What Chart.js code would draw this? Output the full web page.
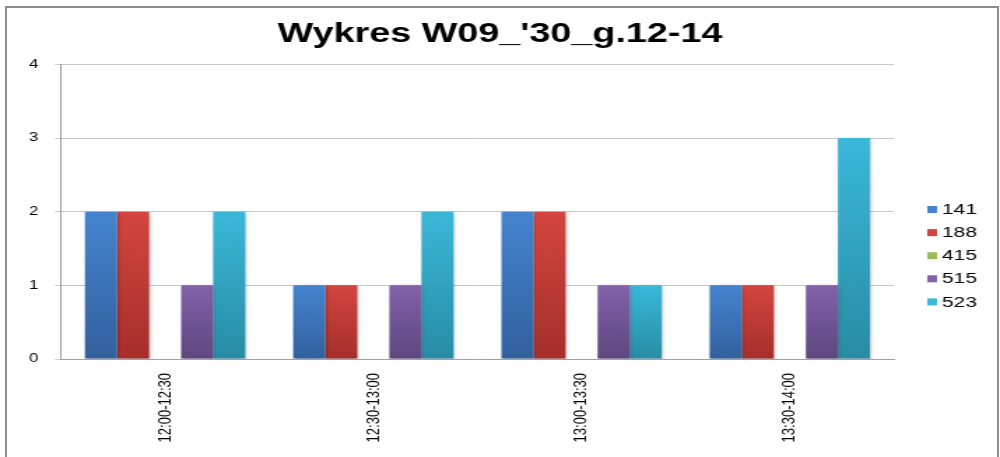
<!DOCTYPE html>
<html>
<head>
<meta charset="utf-8">
<title>Wykres W09_'30_g.12-14</title>
<script src="https://cdn.jsdelivr.net/npm/chart.js@4.4.1/dist/chart.umd.min.js"></script>
<style>
  html, body { margin: 0; padding: 0; background: #fff; }
  #page { position: relative; width: 1000px; height: 457px; overflow: hidden; background: #fff; }
  #frame { position: absolute; left: 5px; top: 6px; width: 994px; height: 470px; border: 2px solid #8c8c8c; border-bottom: none; box-sizing: border-box; }
  /* source picture is stretched sideways, so the chart is too */
  #stretch { position: absolute; left: 0; top: 0; width: 715px; height: 457px; transform: scaleX(1.3986); transform-origin: 0 0; }
</style>
</head>
<body>
<div id="page">
  <div id="frame"></div>
  <div id="stretch"><canvas id="myChart" width="715" height="457"></canvas></div>
</div>
<script>
// chart data
const titleText = "Wykres W09_'30_g.12-14";
const categories = ['12:00-12:30', '12:30-13:00', '13:00-13:30', '13:30-14:00'];
const seriesNames = ['141', '188', '415', '515', '523'];
const values141 = [2, 1, 2, 1];
const values188 = [2, 1, 2, 1];
const values415 = [0, 0, 0, 0];
const values515 = [1, 1, 1, 1];
const values523 = [2, 2, 1, 3];
const yTickValues = [0, 1, 2, 3, 4];

const FONT = '"Liberation Sans", Arial, sans-serif';

// vertical gradient per bar, lighter at the top
function barGradient(top, bottom) {
  return (ctx) => {
    const chart = ctx.chart;
    const y = chart.scales && chart.scales.y;
    if (ctx.type !== 'data' || !y) return top;
    const yTop = y.getPixelForValue(ctx.parsed.y);
    const yBase = y.getPixelForValue(0);
    if (!isFinite(yTop) || !isFinite(yBase) || yTop === yBase) return top;
    const g = chart.ctx.createLinearGradient(0, yTop, 0, yBase);
    g.addColorStop(0, top);
    g.addColorStop(1, bottom);
    return g;
  };
}

function makeSet(label, data, top, bottom) {
  return {
    label: label,
    data: data,
    legendColor: top,
    backgroundColor: barGradient(top, bottom),
    borderWidth: 0,
    categoryPercentage: 0.77,
    barPercentage: 1.0,
  };
}

// soft shadow under the bars
const barShadow = {
  id: 'barShadow',
  beforeDatasetsDraw(chart) {
    const c = chart.ctx;
    c.save();
    c.shadowColor = 'rgba(0,0,0,0.28)';
    c.shadowBlur = 3;
    c.shadowOffsetX = 1;
    c.shadowOffsetY = 1;
  },
  afterDatasetsDraw(chart) {
    chart.ctx.restore();
  }
};

// legend on the right, Excel style
const sideLegend = {
  id: 'sideLegend',
  afterDraw(chart) {
    const c = chart.ctx;
    c.save();
    c.font = '15px ' + FONT;
    c.textBaseline = 'middle';
    c.textAlign = 'left';
    chart.data.datasets.forEach((ds, i) => {
      const y = 209.5 + i * 23.1;
      c.fillStyle = ds.legendColor;
      c.fillRect(663, y - 3.5, 7, 7);
      c.fillStyle = '#000';
      c.fillText(ds.label, 673.5, y + 0.5);
    });
    c.restore();
  }
};

const ctx = document.getElementById('myChart').getContext('2d');
new Chart(ctx, {
  type: 'bar',
  data: {
    labels: categories,
    datasets: [
      makeSet(seriesNames[0], values141, '#4584d0', '#33609d'),
      makeSet(seriesNames[1], values188, '#d4453f', '#a52f2b'),
      makeSet(seriesNames[2], values415, '#9bbb59', '#76923c'),
      makeSet(seriesNames[3], values515, '#8262aa', '#5d4680'),
      makeSet(seriesNames[4], values523, '#3bb8d9', '#288ca4'),
    ],
  },
  plugins: [barShadow, sideLegend],
  options: {
    responsive: false,
    animation: false,
    layout: { padding: 0 },
    plugins: {
      legend: { display: false },
      tooltip: { enabled: false },
      title: {
        display: true,
        text: titleText,
        color: '#000',
        font: { family: FONT, size: 27, weight: 'bold' },
        padding: { top: 18, bottom: 14 },
      },
    },
    scales: {
      x: {
        grid: { display: false },
        border: { display: true, color: '#a0a0a0' },
        ticks: {
          minRotation: 90,
          maxRotation: 90,
          autoSkip: false,
          padding: 6,
          color: '#000',
          font: { family: FONT, size: 13 },
        },
        afterFit: (scale) => { scale.height = 98; },
      },
      y: {
        min: 0,
        max: 4,
        afterBuildTicks: (scale) => { scale.ticks = yTickValues.map(v => ({ value: v })); },
        ticks: {
          padding: 12,
          color: '#000',
          font: { family: FONT, size: 12 },
        },
        grid: { color: '#c8c8c8', tickLength: 4.3 },
        border: { color: '#a0a0a0' },
        afterFit: (scale) => { scale.width = 43.6; },
      },
      // empty strip on the right that holds the legend
      legendSpace: {
        type: 'linear',
        position: 'right',
        display: true,
        min: 0,
        max: 1,
        grid: { display: false, drawTicks: false },
        border: { display: false },
        ticks: { display: false },
        afterFit: (scale) => { scale.width = 75.8; },
      },
    },
  },
});
</script>
</body>
</html>
